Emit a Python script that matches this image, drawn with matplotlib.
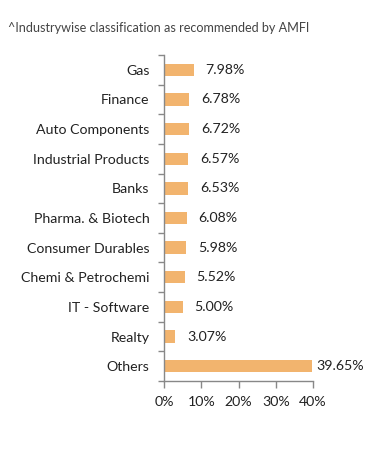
import matplotlib
matplotlib.use("Agg")
import matplotlib.pyplot as plt
import numpy as np

categories = ["Gas", "Finance", "Auto Components", "Industrial Products", "Banks",
              "Pharma. & Biotech", "Consumer Durables", "Chemi & Petrochemi",
              "IT - Software", "Realty", "Others"]
values = [7.98, 6.78, 6.72, 6.57, 6.53, 6.08, 5.98, 5.52, 5.00, 3.07, 39.65]
xticks = [0, 10, 20, 30, 40]
xticklabels = ["0%", "10%", "20%", "30%", "40%"]
title = "^Industrywise classification as recommended by AMFI"

plt.rcParams['font.family'] = ['Lato', 'DejaVu Sans']

W, H = 391, 450
fig = plt.figure(figsize=(W/100, H/100), dpi=100)
ax = fig.add_axes([164/W, 1-381/H, (313-164)/W, (381-55)/H])

fs = 10.2
y = np.arange(len(categories))
ax.barh(y, values, height=0.42, color="#F2B46E", zorder=2)
ax.set_ylim(len(categories)-0.5, -0.5)
ax.set_xlim(0, 40)
ax.set_yticks(y)
ax.set_yticklabels(categories, fontsize=fs, color="#222222")
ax.tick_params(axis='y', which='major', length=0, pad=10.5)
ax.set_yticks(np.arange(-0.5, len(categories)), minor=True)
ax.tick_params(axis='y', which='minor', length=4, color="#888888", width=1)
ax.set_xticks(xticks)
ax.set_xticklabels(xticklabels, fontsize=fs, color="#222222")
ax.tick_params(axis='x', length=5, color="#888888", width=1, pad=6)
for s in ["top", "right"]:
    ax.spines[s].set_visible(False)
for s in ["left", "bottom"]:
    ax.spines[s].set_color("#888888")
    ax.spines[s].set_linewidth(1)

for i, v in enumerate(values):
    off = 5 if v > 35 else 12
    ax.annotate(f"{v:.2f}%", (v, i), xytext=(off, 0), textcoords="offset pixels",
                va="center", ha="left", fontsize=fs, color="#222222", annotation_clip=False)

fig.text(8/W, 1-28/H, title, fontsize=9.1, color="#444444", va="center", ha="left")

fig.savefig("out.png", dpi=100)
